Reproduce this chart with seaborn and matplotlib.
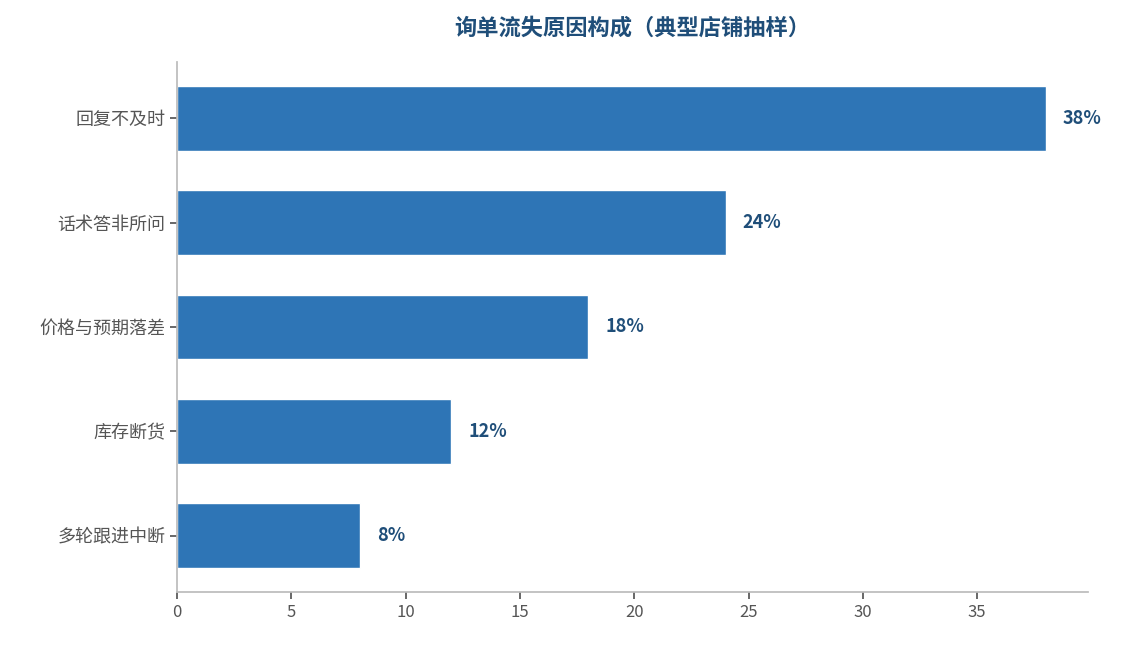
import matplotlib
matplotlib.use("Agg")
import matplotlib.pyplot as plt
import seaborn as sns
import pandas as pd

categories = ["回复不及时", "话术答非所问", "价格与预期落差", "库存断货", "多轮跟进中断"]
values = [38, 24, 18, 12, 8]
title = "询单流失原因构成（典型店铺抽样）"

sns.set_theme(style="white")
plt.rcParams['font.family'] = ['Noto Sans CJK SC', 'DejaVu Sans']

df = pd.DataFrame({"cat": categories, "val": values})
fig = plt.figure(figsize=(11.24, 6.45), dpi=100)
ax = fig.add_axes([177/1124, 1-592/645, (1088-177)/1124, (592-62)/645])
sns.barplot(data=df, x="val", y="cat", color="#2E75B6", saturation=1, width=0.62, ax=ax)
ax.set_xlim(0, 39.85)
ax.set_ylim(4.54, -0.54)
ax.set_xlabel(""); ax.set_ylabel("")
for i, v in enumerate(values):
    ax.text(v + 0.75, i, f"{v}%", va="center", ha="left", fontsize=13, fontweight="bold", color="#1F4E79")
ax.set_xticks([0, 5, 10, 15, 20, 25, 30, 35])
ax.tick_params(axis="both", labelsize=12, colors="#555555", length=5, left=True, bottom=True)
ax.tick_params(axis="y", labelsize=13)
for s in ["top", "right"]:
    ax.spines[s].set_visible(False)
for s in ["left", "bottom"]:
    ax.spines[s].set_color("#BBBBBB")
fig.text((177+1088)/2/1124, 1-28/645, title, ha="center", va="center", fontsize=16, fontweight="bold", color="#1F4E79")
fig.savefig("out.png", dpi=100)
